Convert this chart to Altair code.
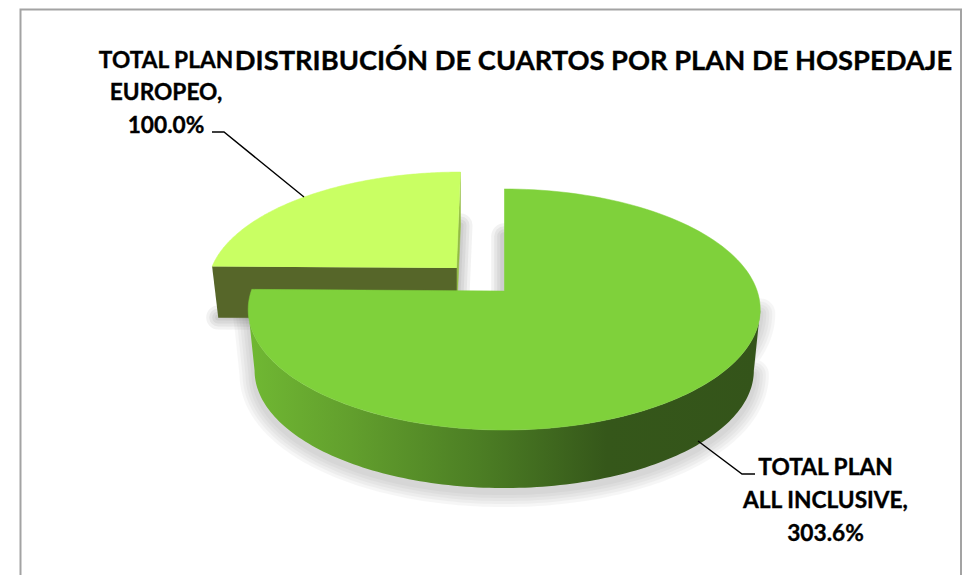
import numpy as np
import pandas as pd
import altair as alt

names = ["TOTAL PLAN ALL INCLUSIVE", "TOTAL PLAN EUROPEO"]
values = [303.6, 100.0]
title_text = "DISTRIBUCIÓN DE CUARTOS POR PLAN DE HOSPEDAJE"
label_lines_main = ["TOTAL PLAN", "ALL INCLUSIVE,", f"{values[0]:.1f}%"]
label_lines_euro = ["TOTAL PLAN", "EUROPEO,", f"{values[1]:.1f}%"]

FONT = "Lato"
X_DOM = [8, 964]
Y_DOM = [575, 8]
split = 360 * values[0] / sum(values)

MAIN = dict(cx=504.2, cy=291, b=253, a=117.7, k=0.1535, m=0)
MAIN_LOW = dict(cx=504.2, cy=352.5, b=253 * .975, a=117.7 * .975, k=0.1535, m=0)
EURO = dict(cx=456.5, cy=268, b=245, a=110.7, k=0.1535, m=4.6)
EURO_LOW = dict(cx=456.5, cy=319, b=245 * .975, a=110.7 * .975, k=0.1535, m=4.6)


def proj(deg, p, r=1.0):
    t = np.radians(np.asarray(deg, dtype=float))
    u, v = r * np.sin(t), r * np.cos(t)
    w = 1 + p["k"] * v
    return p["cx"] + (p["b"] * u + p["m"] * v) / w, p["cy"] - p["a"] * v / w


def arc(a0, a1, p, n=140):
    return proj(np.linspace(a0, a1, n), p)


def join(*parts):
    xs = np.concatenate([np.atleast_1d(q[0]) for q in parts])
    ys = np.concatenate([np.atleast_1d(q[1]) for q in parts])
    return xs, ys


def shape(pts, **mark):
    xs, ys = pts
    df = pd.DataFrame({"x": xs, "y": ys, "i": np.arange(len(xs))})
    return alt.Chart(df).mark_line(interpolate="linear", **mark).encode(
        x=alt.X("x:Q", scale=alt.Scale(domain=X_DOM), axis=None),
        y=alt.Y("y:Q", scale=alt.Scale(domain=Y_DOM), axis=None),
        order="i:Q",
    )


def blur(pts, widths, color="#4a4a4a", op=0.045, fill=None):
    out = []
    for w in widths:
        kw = dict(stroke=color, strokeWidth=w, opacity=op, strokeJoin="round", strokeCap="round")
        if fill:
            kw["fill"] = fill
        out.append(shape(pts, **kw))
    return out


def text_layer(lines, xs, ys, size):
    df = pd.DataFrame({"x": xs, "y": ys, "t": lines})
    return alt.Chart(df).mark_text(
        font=FONT, fontWeight="bold", fontSize=size, color="#000000", align="center", baseline="middle",
        stroke="#000000", strokeWidth=0.35,
    ).encode(
        x=alt.X("x:Q", scale=alt.Scale(domain=X_DOM), axis=None),
        y=alt.Y("y:Q", scale=alt.Scale(domain=Y_DOM), axis=None),
        text="t:N",
    )


# Main slice geometry
ext = np.degrees(np.arccos(-MAIN["k"]))
low_x, low_y = arc(360 - ext, ext, MAIN_LOW)
main_wall = join(arc(ext, 360 - ext, MAIN), (low_x, low_y))
main_top = join(arc(0, split, MAIN), proj([0], MAIN, 0.0))

# Europe slice geometry
euro_top = join(arc(split, 360, EURO), proj([0], EURO, 0.0))
euro_cut = join(proj([split], EURO), proj([0], EURO, 0.0), proj([0], EURO_LOW, 0.0), proj([split], EURO_LOW))
euro_side = join(proj([0], EURO), proj([0], EURO_LOW), proj([0], EURO_LOW, 0.0), proj([0], EURO, 0.0))
euro_shadow = join(proj([0], EURO_LOW), proj([0], EURO_LOW, 0.0), proj([split], EURO_LOW))
notch_shadow = join(proj([0], MAIN, 0.5), proj([0], MAIN, 0.0))
main_shadow = (main_wall[0], main_wall[1] + 4)

wall_gradient = alt.Gradient(
    gradient="linear", x1=0, x2=1, y1=0, y2=0,
    stops=[
        alt.GradientStop(offset=0.0, color="#70B833"),
        alt.GradientStop(offset=0.2, color="#629F2D"),
        alt.GradientStop(offset=0.45, color="#4C7E24"),
        alt.GradientStop(offset=0.70, color="#35571A"),
        alt.GradientStop(offset=1.0, color="#34541A"),
    ],
)

# Border and leader lines
border = (np.array([20.5, 20.5, 961, 961]), np.array([575, 9.5, 9.5, 575]))
lead_euro = ([212, 224, 304], [132, 132, 197])
lead_main = ([755, 742, 698], [474, 474, 441])

layers = [shape(border, stroke="#A3A3A3", strokeWidth=2)]
layers += blur(euro_shadow, [24, 18, 12, 6], op=0.07)
layers += blur(notch_shadow, [26, 20, 14, 8], op=0.07)
layers += blur(main_shadow, [30, 24, 18, 12, 6], fill="#4a4a4a")
layers += [
    shape(euro_side, fill="#93BB45", stroke="#93BB45", strokeWidth=0.5),
    shape(euro_cut, fill="#566629", stroke="#566629", strokeWidth=0.5),
    shape(euro_top, fill="#C9FF63", stroke="#C9FF63", strokeWidth=0.5),
    shape(main_wall, fill=wall_gradient, strokeWidth=0),
    shape(main_top, fill="#7FD13B", stroke="#7FD13B", strokeWidth=0.5),
    shape(lead_euro, stroke="#000000", strokeWidth=1.4),
    shape(lead_main, stroke="#000000", strokeWidth=1.4),
    text_layer([title_text], [593.5], [61.5], 27.3),
    text_layer(label_lines_euro, [166, 166, 166], [60.5, 92.5, 125.5], 22.7),
    text_layer(label_lines_main, [825.5, 825.5, 825.5], [467.5, 500.5, 533.5], 22.7),
]

chart = alt.layer(*layers).properties(
    width=956, height=567, padding=0, background="#FFFFFF",
    autosize=alt.AutoSizeParams(type="none"),
).configure_view(stroke=None)

chart.save("out.html", embed_options={"renderer": "svg", "actions": False})
